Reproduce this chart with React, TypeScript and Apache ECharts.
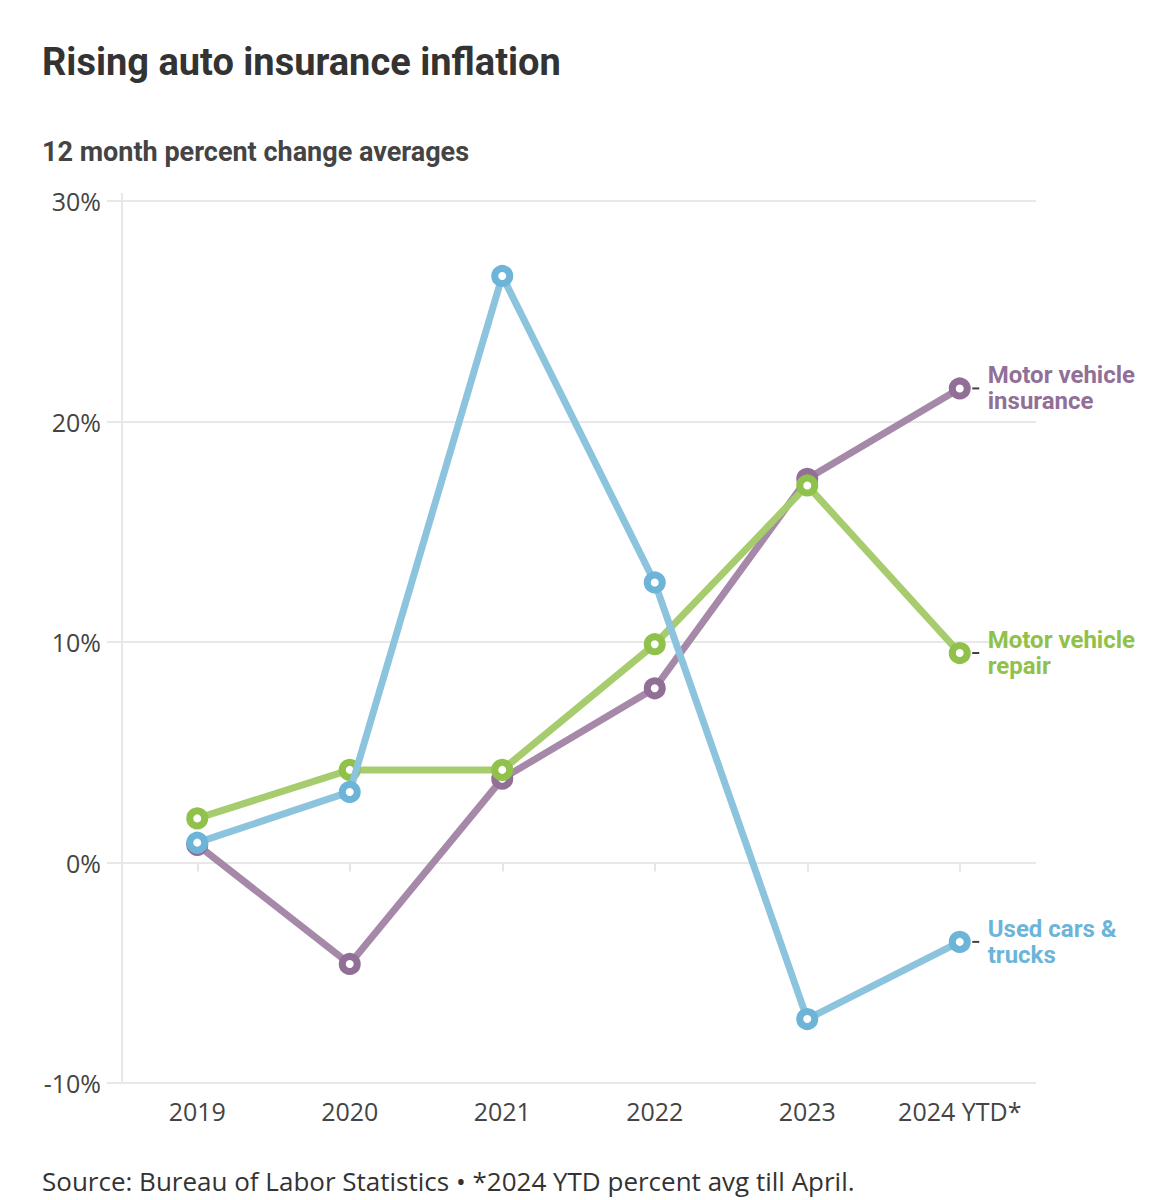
import React, { useEffect, useRef } from "react";
import * as echarts from "echarts";

const categories = ["2019", "2020", "2021", "2022", "2023", "2024 YTD*"];
const insurance = [0.8, -4.6, 3.8, 7.9, 17.4, 21.5];
const repair = [2.0, 4.2, 4.2, 9.9, 17.1, 9.5];
const usedCars = [0.9, 3.2, 26.6, 12.7, -7.1, -3.6];
const seriesNames = ["Motor vehicle\ninsurance", "Motor vehicle\nrepair", "Used cars &\ntrucks"];
const lineColors = ["#a688a8", "#a6cc6e", "#8cc4de"];
const markerColors = ["#926f97", "#8fc14b", "#6db4d9"];

const TITLE = "Rising auto insurance inflation";
const SUBTITLE = "12 month percent change averages";
const SOURCE = "Source: Bureau of Labor Statistics \u2022 *2024 YTD percent avg till April.";

export default function App() {
  const ref = useRef<HTMLDivElement>(null);
  useEffect(() => {
    const chart = echarts.init(ref.current!, undefined, { renderer: "svg" });
    const datasets = [insurance, repair, usedCars];
    const lineSeries: any[] = datasets.map((d, i) => ({
      type: "line",
      name: seriesNames[i],
      data: d,
      z: 2 + i,
      symbol: "circle",
      symbolSize: 15,
      showAllSymbol: true,
      lineStyle: { width: 7, color: lineColors[i] },
      itemStyle: { color: "#ffffff", borderColor: markerColors[i], borderWidth: 7 },
      emphasis: { disabled: true },
      endLabel: {
        show: true,
        formatter: seriesNames[i],
        distance: 28,
        color: markerColors[i],
        fontFamily: "Roboto",
        fontWeight: "bold",
        fontSize: 24,
        lineHeight: 26,
        align: "left",
        verticalAlign: "middle",
      },
    }));
    const tickSeries: any[] = datasets.map((d) => ({
      type: "scatter",
      data: d.map((v, j) => (j === d.length - 1 ? v : null)),
      symbol: "rect",
      symbolSize: [7, 2],
      symbolOffset: [16, 0],
      itemStyle: { color: "#111111" },
      z: 10,
      silent: true,
    }));
    chart.setOption({
      animation: false,
      backgroundColor: "#ffffff",
      title: [
        {
          text: TITLE,
          left: 42,
          top: 43,
          padding: 0,
          textStyle: { fontFamily: "Roboto", fontWeight: "bold", fontSize: 38, color: "#333333" },
        },
        {
          text: SUBTITLE,
          left: 42,
          top: 138,
          padding: 0,
          textStyle: { fontFamily: "Roboto", fontWeight: "bold", fontSize: 27, color: "#444444" },
        },
        {
          text: SOURCE,
          left: 42,
          top: 1168,
          padding: 0,
          textStyle: { fontFamily: "Open Sans", fontWeight: "normal", fontSize: 26, color: "#333333" },
        },
      ],
      grid: { left: 121, right: 137, top: 201, bottom: 117, containLabel: false },
      xAxis: {
        type: "category",
        data: categories,
        boundaryGap: true,
        axisLine: { show: false },
        axisTick: { show: true, interval: 0, alignWithLabel: true, length: 9, lineStyle: { color: "#e6e6e6", width: 2 } },
        axisLabel: { interval: 0, color: "#444444", fontFamily: "Open Sans", fontSize: 25, margin: 15 },
        splitLine: { show: false },
      },
      yAxis: {
        type: "value",
        min: -10,
        max: 30,
        interval: 10,
        axisLine: { show: false },
        axisTick: { show: true, length: 14, lineStyle: { color: "#e8e8e8", width: 2 } },
        axisLabel: {
          color: "#444444",
          fontFamily: "Open Sans",
          fontSize: 25,
          margin: 20,
          formatter: (v: number) => v + "%",
        },
        splitLine: { show: true, lineStyle: { color: "#e8e8e8", width: 2 } },
      },
      graphic: [
        {
          type: "line",
          shape: { x1: 122, y1: 193, x2: 122, y2: 1083 },
          style: { stroke: "#e8e8e8", lineWidth: 2 },
          z: 0,
          silent: true,
        },
      ],
      series: [...lineSeries, ...tickSeries],
    });
    return () => chart.dispose();
  }, []);
  return <div ref={ref} style={{ position: "absolute", left: 0, top: 0, width: 1173, height: 1200 }} />;
}
